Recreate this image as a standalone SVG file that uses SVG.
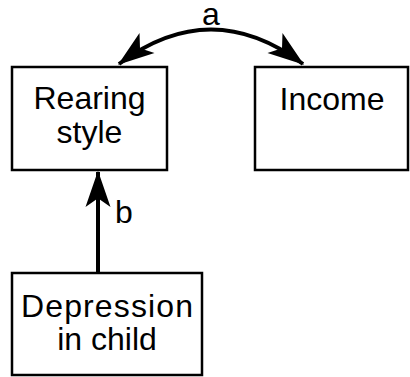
<svg xmlns="http://www.w3.org/2000/svg" width="410" height="377" viewBox="0 0 410 377">
<defs>
<style>
.box{fill:#fff;stroke:#000;stroke-width:2.5}
.lbl{font-family:"Liberation Sans",Arial,sans-serif;font-size:32px;fill:#000;text-anchor:middle}
.edge{fill:none;stroke:#000;stroke-width:4}
</style>
<marker id="ah" markerUnits="userSpaceOnUse" markerWidth="40" markerHeight="30" viewBox="-30 -12 32 24" refX="0" refY="0" orient="auto-start-reverse">
<path d="M1,0 L-28,-10 L-21,0 L-28,10 Z" fill="#000"/>
</marker>
</defs>
<rect width="410" height="377" fill="#fff"/>
<g id="connectors">
<path class="edge" d="M119,64 Q211,-5 303,64" marker-start="url(#ah)" marker-end="url(#ah)"/>
<text class="lbl" x="211" y="25">a</text>
<path class="edge" d="M98,273 L98,172" marker-end="url(#ah)"/>
<text class="lbl" x="124" y="223">b</text>
</g>
<g id="rearing">
<rect class="box" x="12" y="67" width="155" height="103"/>
<text class="lbl" x="89.5" y="109">Rearing</text>
<text class="lbl" x="89.5" y="143">style</text>
</g>
<g id="income">
<rect class="box" x="255" y="67" width="153" height="103"/>
<text class="lbl" x="332" y="110">Income</text>
</g>
<g id="depression">
<rect class="box" x="12" y="273" width="190" height="102"/>
<text class="lbl" x="107" y="317" textLength="172">Depression</text>
<text class="lbl" x="107" y="350">in child</text>
</g>
</svg>
